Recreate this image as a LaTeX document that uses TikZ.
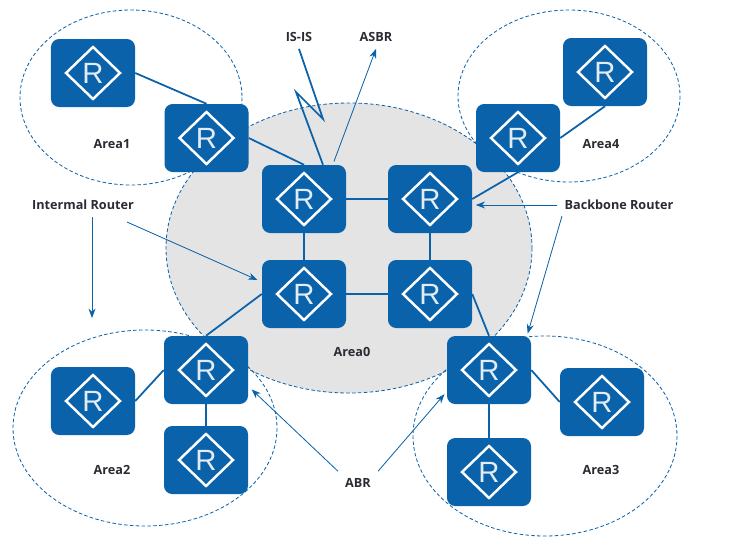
\documentclass[tikz,border=0pt]{standalone}
\usepackage{fontspec}
\setmainfont{Open Sans}
\newfontfamily\routerfont{Liberation Sans}
\usetikzlibrary{arrows.meta}
\usetikzlibrary{positioning}
\definecolor{routerblue}{HTML}{0A62AA}
\definecolor{areagray}{HTML}{E4E4E4}
\definecolor{labelink}{HTML}{2B2B33}
\tikzset{
	router/.style={rectangle, rounded corners=7pt, fill=routerblue, text=white!88!routerblue,
		minimum width=2.52cm, minimum height=2.04cm, inner sep=0pt,
		font=\routerfont\fontsize{25}{25}\selectfont,
		path picture={\draw[white, line width=2.1pt, sharp corners] (path picture bounding box.center)
			++(-27,0) -- ++(27,-26) -- ++(27,26) -- ++(-27,26) -- cycle;}},
	area/.style={draw=routerblue, densely dashed, line width=0.7pt},
	link/.style={draw=routerblue, line width=1.5pt},
	pointer/.style={draw=routerblue, line width=0.7pt, -{Stealth[length=8pt,width=6pt]}},
	lbl/.style={text=labelink, inner sep=6pt, font=\bfseries\fontsize{10.8}{12}\selectfont}
}
\begin{document}
\begin{tikzpicture}[x=0.03cm, y=-0.03cm]
	\useasboundingbox (0,0) rectangle (731,551);

	% areas
	\draw[area, fill=areagray] (349,248) ellipse [x radius=183, y radius=145];
	\draw[area] (131,97.5) ellipse [x radius=111, y radius=87.5];
	\draw[area] (569,96) ellipse [x radius=111, y radius=86];
	\draw[area] (145,428) ellipse [x radius=132, y radius=98];
	\draw[area] (545,436) ellipse [x radius=132, y radius=100];

	\begin{scope}[every node/.style={router}]
		\foreach \name/\x/\y in {ra/93/73, rb/206.5/138, rc/304/199, rd/430/199,
			re/304/294, rf/430/294, rg/605/72, rh/518/138, ri/206/370, rj/93/401,
			rk/206/460, rl/489/370, rm/602/402, rn/489/472}
		{
			\node (\name) at (\x,\y) {R};
		}
	\end{scope}

	\begin{scope}[every node/.style={lbl}]
		\node (area1) at (112,144) {Area1};
		\node (area4) at (601,144) {Area4};
		\node (area2) at (112,470) {Area2};
		\node (area3) at (601,470) {Area3};
		\node (area0) at (352,352) {Area0};
		\node (isis) at (299,37) {IS-IS};
		\node (asbr) at (376,37) {ASBR};
		\node (inner) at (83,205) {Intermal Router};
		\node (bone) at (619,205) {Backbone Router};
		\node (abr) at (358,483) {ABR};
	\end{scope}

	\coordinate (zigb) at (323,119);
	\coordinate (zigc) at (296,92);
	\coordinate (innerstart) at (127,222);
	\coordinate (innerend) at (92,318);
	\coordinate (bonestart) at (562,216);

	% links between routers
	\begin{scope}[every path/.style={link}]
		\path (ra.east) -- (rb.north);
		\path (rb.east) -- (rc.north);
		\path (rc.east) -- (rd.west);
		\path (rc.south) -- (re.north);
		\path (rd.south) -- (rf.north);
		\path (re.east) -- (rf.west);
		\path (rd.east) -- (rh.south);
		\path (rh.east) -- (rg.south);
		\path (re.west) -- (ri.north);
		\path (ri.west) -- (rj.east);
		\path (ri.south) -- (rk.north);
		\path (rf.east) -- (rl.north);
		\path (rl.east) -- (rm.west);
		\path (rl.south) -- (rn.north);
		\path (isis.south) -- (zigb) -- (zigc) -- (rc.61);
	\end{scope}

	% label pointers
	\begin{scope}[every path/.style={pointer}]
		\path[shorten <=3pt] (rc.50) -- (asbr.south);
		\path (inner.south -| innerend) -- (innerend);
		\path[shorten >=4pt] (innerstart) -- (re.164);
		\path[shorten >=3pt] (bone.west) -- (rd.east |- bone.west);
		\path[shorten >=2pt] (bonestart) -- (rl.42);
		\path[shorten >=4pt] (abr.north west) -- (ri.-21);
		\path[shorten >=3pt] (abr.north east) -- (rl.207);
	\end{scope}
\end{tikzpicture}
\end{document}
